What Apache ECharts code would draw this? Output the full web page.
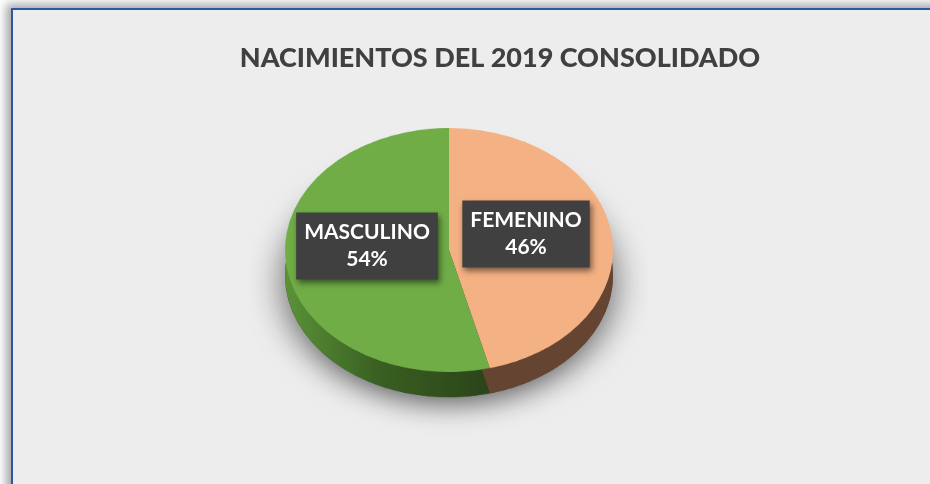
<!DOCTYPE html>
<html>
<head>
<meta charset="utf-8">
<script src="https://cdn.jsdelivr.net/npm/echarts@6/dist/echarts.min.js"></script>
<style>
  html, body { margin: 0; padding: 0; width: 930px; height: 484px; overflow: hidden; background: #ffffff; }
  #frame { position: absolute; left: 11px; top: 8px; width: 1000px; height: 600px;
           border: 2px solid #2F55A4; background: #EDEDED;
           box-shadow: -5px -4px 9px rgba(0,0,0,0.35); }
  #pie { position: absolute; left: 249px; top: 50px; width: 400px; height: 460px;
         transform-origin: 200px 200px; transform: scaleY(0.744); }
  #main { position: absolute; left: 0; top: 0; width: 930px; height: 484px; }
</style>
</head>
<body>
<div id="frame"></div>
<div id="pie"></div>
<div id="main"></div>
<script>
// ---- data ----
const titleText = 'NACIMIENTOS DEL 2019 CONSOLIDADO';
const categories = ['FEMENINO', 'MASCULINO'];
const values = [46, 54];

// ---- styles ----
const topColors = ['#F4B183', '#70AD47'];
const sideColors = [
  '#654532',
  new echarts.graphic.LinearGradient(0, 0, 1, 0, [
    { offset: 0, color: '#5a9338' },
    { offset: 0.45, color: '#3a6022' },
    { offset: 1, color: '#2b4419' }
  ])
];
const labelPos = [[526, 234], [367, 246]];

const total = values.reduce((a, b) => a + b, 0);

// 3D pie (scaled vertically into an ellipse)
const pieChart = echarts.init(document.getElementById('pie'), null, { renderer: 'canvas' });
pieChart.setOption({
  animation: false,
  series: [
    {
      type: 'pie', radius: 164, center: [200, 234], startAngle: 90, silent: true,
      label: { show: false }, labelLine: { show: false },
      data: [{ value: total, itemStyle: { color: '#3a3a3a', shadowBlur: 36, shadowColor: 'rgba(0,0,0,0.6)', shadowOffsetY: 10 } }]
    },
    {
      type: 'pie', radius: 164, center: [200, 234], startAngle: 90, silent: true,
      label: { show: false }, labelLine: { show: false },
      data: categories.map((c, i) => ({ name: c, value: values[i], itemStyle: { color: sideColors[i], borderWidth: 0 } }))
    },
    {
      type: 'pie', radius: 164, center: [200, 200], startAngle: 90, silent: true,
      label: { show: false }, labelLine: { show: false },
      data: categories.map((c, i) => ({ name: c, value: values[i], itemStyle: { color: topColors[i], borderWidth: 0 } }))
    }
  ]
});

// Title and labels
const mainChart = echarts.init(document.getElementById('main'), null, { renderer: 'canvas' });
mainChart.setOption({
  animation: false,
  backgroundColor: 'transparent',
  title: {
    text: titleText,
    left: 495, top: 40, textAlign: 'center',
    textStyle: { fontFamily: 'Lato', fontWeight: 900, fontSize: 27, color: '#404040' }
  },
  series: [{
    type: 'pie', radius: 164, center: [449, 250], startAngle: 90, silent: true,
    percentPrecision: 0,
    itemStyle: { color: 'rgba(0,0,0,0)' },
    labelLine: { show: false },
    label: {
      show: true, position: 'inside',
      formatter: '{b}\n{d}%',
      color: '#ffffff', fontFamily: 'Lato', fontWeight: 'bold', fontSize: 21, lineHeight: 27,
      backgroundColor: '#404040', padding: [7, 8, 6, 8],
      shadowColor: 'rgba(0,0,0,0.5)', shadowBlur: 6, shadowOffsetX: 2, shadowOffsetY: 3
    },
    labelLayout: function (p) {
      const pos = labelPos[p.dataIndex];
      return { x: pos[0], y: pos[1], align: 'center', verticalAlign: 'middle' };
    },
    data: categories.map((c, i) => ({ name: c, value: values[i] }))
  }]
});
</script>
</body>
</html>
